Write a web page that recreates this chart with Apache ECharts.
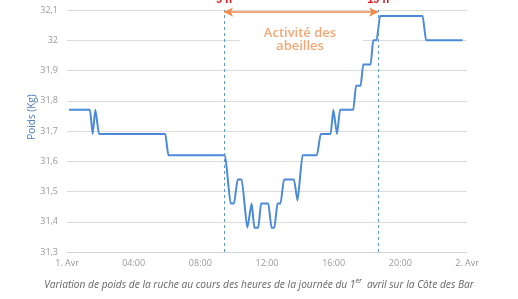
<!DOCTYPE html>
<html><head><meta charset="utf-8">
<script src="https://cdn.jsdelivr.net/npm/echarts@6/dist/echarts.min.js"></script>
<style>html,body{margin:0;padding:0;background:#fff}#c{width:518px;height:299px}</style>
</head><body><div id="c"></div>
<script>
// hours of day (0 = 1. Avr 00:00) and hive weight (kg)
const hours = [0.12,1.38,1.54,1.70,1.92,5.90,6.08,9.48,9.82,10.02,10.24,10.48,10.82,11.08,11.24,11.48,11.64,12.08,12.27,12.44,12.63,12.81,13.02,13.62,13.83,14.13,15.00,15.22,15.82,15.98,16.20,16.38,17.18,17.34,17.62,17.77,18.22,18.37,18.58,18.78,21.34,21.54,23.74];
const weights = [31.77,31.77,31.69,31.77,31.69,31.69,31.62,31.62,31.46,31.46,31.54,31.54,31.38,31.46,31.38,31.38,31.46,31.46,31.38,31.38,31.46,31.46,31.54,31.54,31.47,31.62,31.62,31.69,31.69,31.77,31.69,31.77,31.77,31.85,31.85,31.92,31.92,32.00,32.00,32.08,32.08,32.00,32.00];
const xTickLabels = ['1. Avr','04:00','08:00','12:00','16:00','20:00','2. Avr'];
const activityStart = 9.42, activityEnd = 18.67;
const startLabel = '9 h', endLabel = '19 h';

const chart = echarts.init(document.getElementById('c'), null, {renderer:'canvas'});
chart.setOption({
  animation:false,
  grid:{left:67,right:51,top:10,bottom:47},
  xAxis:{type:'value',min:0,max:24,interval:4,
    axisLine:{show:true,lineStyle:{color:'#d0d6e0'}},axisTick:{show:false},
    splitLine:{show:false},
    axisLabel:{color:'#999',fontSize:9,fontFamily:'Open Sans',margin:7,
      formatter:v=>xTickLabels[Math.round(v/4)]}},
  yAxis:{type:'value',min:31.3,max:32.1,interval:0.1,
    axisLine:{show:false},axisTick:{show:false},
    splitLine:{lineStyle:{color:'#dcdcdc',width:1}},
    axisLabel:{color:'#999',fontSize:9,fontFamily:'Open Sans',margin:9,
      formatter:v=>String(Math.round(v*10)/10).replace('.',',')}},
  series:[{type:'line',data:hours.map((h,i)=>[h,weights[i]]),
    smooth:0.2,smoothMonotone:'x',showSymbol:false,
    lineStyle:{color:'#4a8ad8',width:2},
    markLine:{silent:true,symbol:['none','none'],
      data:[
        {xAxis:activityStart,lineStyle:{color:'#5b9bd5',type:[3,3],width:1},
          label:{show:true,position:'end',formatter:startLabel,color:'#e8131b',fontWeight:'bold',fontSize:11,distance:5}},
        {xAxis:activityEnd,lineStyle:{color:'#5b9bd5',type:[3,3],width:1},
          label:{show:true,position:'end',formatter:endLabel,color:'#e8131b',fontWeight:'bold',fontSize:11,distance:5}},
        [{coord:[activityStart,32.093],symbol:'arrow',symbolSize:[7,9],lineStyle:{color:'#f08a4b',type:'solid',width:1.5},label:{show:false}},
         {coord:[activityEnd,32.093],symbol:'arrow',symbolSize:[7,9]}]
      ]}}],
  graphic:[
    {type:'rect',shape:{x:240,y:36,width:123,height:8},style:{fill:'#fff'},z:10},
    {type:'text',x:300,y:39.5,z:11,style:{text:'Activité des\nabeilles',fill:'#f2a774',fontSize:13,fontWeight:600,fontFamily:'Open Sans',align:'center',verticalAlign:'middle',lineHeight:13}},
    {type:'text',x:32,y:117,rotation:Math.PI/2,z:11,style:{text:'Poids (Kg)',fill:'#4a7ab8',fontSize:10,fontFamily:'Open Sans',align:'center',verticalAlign:'middle'}},
    {type:'text',x:259,y:285,z:11,style:{
      text:'Variation de poids de la ruche au cours des heures de la journée du 1{s|er}  avril sur la Côte des Bar',
      fill:'#666',fontSize:10.2,fontStyle:'italic',fontFamily:'Open Sans',align:'center',verticalAlign:'middle',
      rich:{s:{fontSize:7,fontStyle:'italic',fill:'#666',verticalAlign:'top',padding:[0,0,8,0]}}}}
  ]
});
</script></body></html>
